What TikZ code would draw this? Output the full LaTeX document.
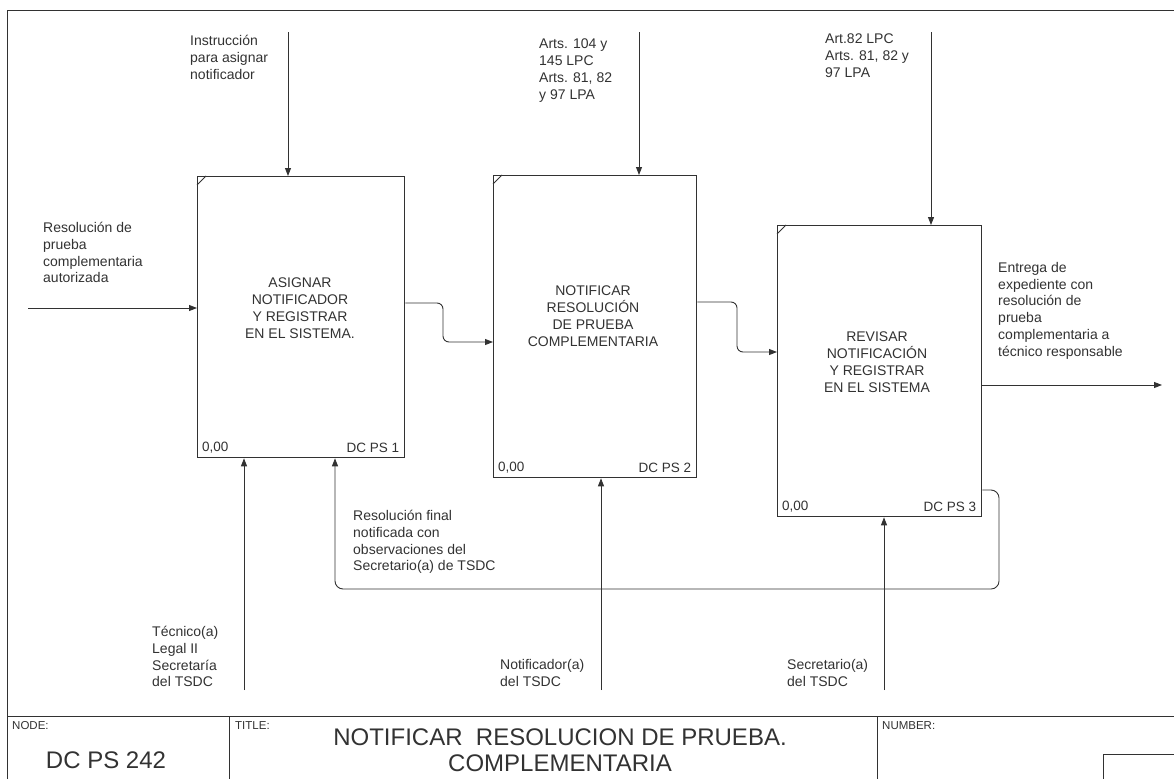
\documentclass[tikz,border=0pt]{standalone}
\usepackage{fontspec}
\setmainfont{Liberation Sans}
\usetikzlibrary{arrows.meta}
\definecolor{ink}{RGB}{50,50,50}
\tikzset{
  proc/.style={draw=ink, line width=1.3pt, inner sep=0pt, anchor=north west},
  ptext/.style={text=ink, align=center, font=\fontsize{14}{17}\selectfont, inner sep=0pt},
  lbl/.style={text=ink, align=left, font=\fontsize{14}{16.8}\selectfont, inner sep=0pt, anchor=north west},
  corner/.style={text=ink, font=\fontsize{13.5}{16}\selectfont, inner sep=0pt},
  arr/.style={draw=ink, line width=0.9pt, -{Triangle[length=8pt,width=6pt]}},
  frame/.style={draw=ink, line width=0.9pt},
  small/.style={text=ink, font=\fontsize{11.5}{13}\selectfont, inner sep=0pt, anchor=north west}
}
\begin{document}
\begin{tikzpicture}[x=1pt,y=-1pt]
\useasboundingbox (0,0) rectangle (1174,779);
% frame
\draw[frame] (7,779) -- (7,10) -- (1174,10);
\draw[frame] (7,716) -- (1174,716);
\draw[frame] (229,716) -- (229,779);
\draw[frame] (877,716) -- (877,779);
\draw[frame] (1174,754) -- (1103,754) -- (1103,779);
% boxes
\node[proc, minimum width=207pt, minimum height=281pt] (b1) at (197,176) {};
\node[proc, minimum width=203pt, minimum height=302pt] (b2) at (493,175) {};
\node[proc, minimum width=204pt, minimum height=291pt] (b3) at (777,225) {};
\foreach \b in {b1,b2,b3}{
  \draw[draw=ink, line width=1pt] (\b.north west) ++(0,9) -- ++(9,-9);
}
\node[ptext] (t1) at (300,308) {ASIGNAR\\NOTIFICADOR\\Y REGISTRAR\\EN EL SISTEMA.};
\node[ptext] (t2) at (593,316) {NOTIFICAR\\RESOLUCIÓN\\DE PRUEBA\\COMPLEMENTARIA};
\node[ptext] (t3) at (877,362) {REVISAR\\NOTIFICACIÓN\\Y REGISTRAR\\EN EL SISTEMA};
\node[corner, anchor=south west] (z1) at ([xshift=5pt,yshift=5pt]b1.south west) {0,00};
\node[corner, anchor=south east] (n1) at ([xshift=-6pt,yshift=5pt]b1.south east) {DC PS 1};
\node[corner, anchor=south west] (z2) at ([xshift=5pt,yshift=5pt]b2.south west) {0,00};
\node[corner, anchor=south east] (n2) at ([xshift=-6pt,yshift=5pt]b2.south east) {DC PS 2};
\node[corner, anchor=south west] (z3) at ([xshift=5pt,yshift=5pt]b3.south west) {0,00};
\node[corner, anchor=south east] (n3) at ([xshift=-6pt,yshift=5pt]b3.south east) {DC PS 3};
% controls
\coordinate (c1) at (288,32);
\coordinate (c2) at (639,32);
\coordinate (c3) at (931,32);
\draw[arr] (c1) -- (c1 |- b1.north);
\draw[arr] (c2) -- (c2 |- b2.north);
\draw[arr] (c3) -- (c3 |- b3.north);
% input
\coordinate (in1) at (28,308);
\draw[arr] (in1) -- (in1 -| b1.west);
% flows between boxes
\draw[arr, rounded corners=6pt] (b1.east |- 0,303) -- (443,303) -- (443,342) -- (b2.west |- 0,342);
\draw[arr, rounded corners=6pt] (b2.east |- 0,302) -- (737,302) -- (737,352) -- (b3.west |- 0,352);
% output
\coordinate (out) at (1162,385);
\draw[arr] (b3.east |- out) -- (out);
% feedback
\coordinate (f1) at (335,589);
\draw[arr, rounded corners=8pt] (b3.east |- 0,490) -- (999,490) -- (999,589) -- (f1) -- (f1 |- b1.south);
% mechanisms
\coordinate (m1) at (244,690);
\coordinate (m2) at (601,690);
\coordinate (m3) at (884,690);
\draw[arr] (m1) -- (m1 |- b1.south);
\draw[arr] (m2) -- (m2 |- b2.south);
\draw[arr] (m3) -- (m3 |- b3.south);
% labels
\node[lbl] (l1) at (190,35) {Instrucción\\para asignar\\notificador};
\node[lbl] (l2) at (539,39) {Arts. 104 y\\145 LPC\\Arts. 81, 82\\y 97 LPA};
\node[lbl] (l3) at (825,34) {Art.82 LPC\\Arts. 81, 82 y\\97 LPA};
\node[lbl] (l4) at (43,222) {Resolución de\\prueba\\complementaria\\autorizada};
\node[lbl] (l5) at (998,262) {Entrega de\\expediente con\\resolución de\\prueba\\complementaria a\\técnico responsable};
\node[lbl] (l6) at (353,510) {Resolución final\\notificada con\\observaciones del\\Secretario(a) de TSDC};
\node[lbl] (l7) at (152,626) {Técnico(a)\\Legal II\\Secretaría\\del TSDC};
\node[lbl] (l8) at (500,659) {Notificador(a)\\del TSDC};
\node[lbl] (l9) at (787,659) {Secretario(a)\\del TSDC};
% title block
\node[small] (nodek) at (12,721) {NODE:};
\node[text=ink, font=\fontsize{24}{26}\selectfont, inner sep=0pt] (nodev) at (106,760) {DC PS 242};
\node[small] (titlek) at (235,721) {TITLE:};
\node[text=ink, align=center, font=\fontsize{24}{26}\selectfont, inner sep=0pt] (titlev) at (560,750) {NOTIFICAR\ \ RESOLUCION DE PRUEBA.\\COMPLEMENTARIA};
\node[small] (numk) at (882,721) {NUMBER:};
\end{tikzpicture}
\end{document}
